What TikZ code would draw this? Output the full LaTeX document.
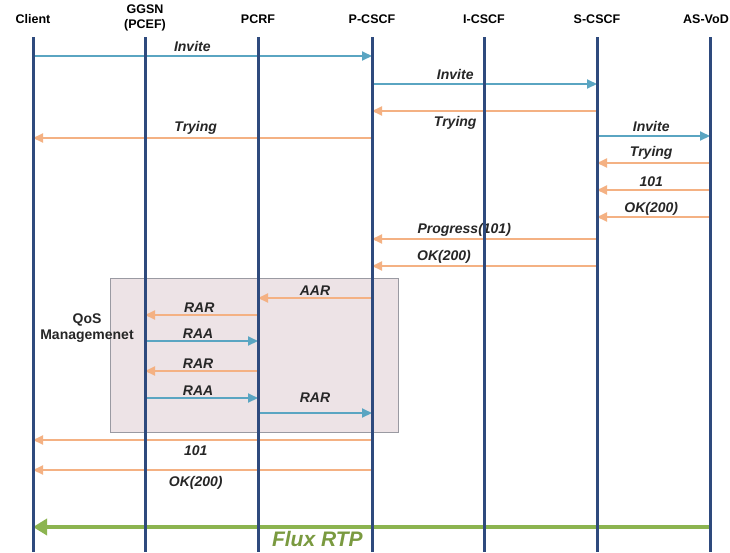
\documentclass[tikz,border=0pt]{standalone}
\usepackage{fontspec}
\setmainfont{Liberation Sans}
\usetikzlibrary{arrows.meta,positioning}

\definecolor{lifeblue}{HTML}{2E4A7D}
\definecolor{reqblue}{HTML}{5AA5C2}
\definecolor{resporange}{HTML}{F4B183}
\definecolor{rtpgreen}{HTML}{8CB450}
\definecolor{rtptext}{HTML}{7A9A40}
\definecolor{qosfill}{HTML}{EDE3E6}
\definecolor{qosline}{HTML}{9A9AA2}

\begin{document}
\begin{tikzpicture}[x=1pt,y=-1pt,
    head/.style={font=\fontsize{12.5}{15}\selectfont\bfseries,align=center,inner sep=0pt},
    life/.style={lifeblue,line width=3pt},
    req/.style={reqblue,line width=2pt,-{Triangle[length=10pt,width=9pt]}},
    resp/.style={resporange,line width=2pt,-{Triangle[length=10pt,width=9pt]}},
    rtp/.style={rtpgreen,line width=4pt,-{Triangle[length=14pt,width=16pt]}},
    lbl/.style={text=black!85,font=\fontsize{14}{15}\selectfont\bfseries\itshape,inner sep=1pt},
    qosbox/.style={fill=qosfill,draw=qosline,line width=1pt}]
    \clip (0,0) rectangle (730,552);
    \fill[white] (0,0) rectangle (730,552);

    % lifelines and headers
    \foreach \n/\x in {cl/33,gg/145,pc/258,pp/372,ic/484,sc/597,as/710}{
        \coordinate (\n-top) at (\x,37);
        \coordinate (\n-bot) at (\x,552);
    }
    \node[head] (cl) at (33,19) {Client};
    \node[head] (gg) at (145,18) {GGSN\\(PCEF)};
    \node[head] (pc) at (258,19) {PCRF};
    \node[head] (pp) at (372,19) {P-CSCF};
    \node[head] (ic) at (484,19) {I-CSCF};
    \node[head] (sc) at (597,19) {S-CSCF};
    \node[head,anchor=east] (as) at (729,19) {AS-VoD};

    % QoS zone
    \draw[qosbox] (110,278) rectangle (398,432);
    \node[head,font=\fontsize{14}{16}\selectfont\bfseries,text=black!85] (qos) at (87,328) {QoS\\Managemenet};

    % SIP session setup
    \draw[req] (cl-top |- 0,56) -- (pp-top |- 0,56) node[lbl,above=2pt,pos=.47] (m1) {Invite};
    \draw[req] (pp-top |- 0,84) -- (sc-top |- 0,84) node[lbl,above=2pt,pos=.37] (m2) {Invite};
    \draw[resp] (sc-top |- 0,111) -- (pp-top |- 0,111) node[lbl,below=3pt,pos=.63] (m3) {Trying};
    \draw[resp] (pp-top |- 0,138) -- (cl-top |- 0,138) node[lbl,above=2pt,pos=.52] (m4) {Trying};
    \draw[req] (sc-top |- 0,136) -- (as-top |- 0,136) node[lbl,above=2pt,pos=.48] (m5) {Invite};
    \draw[resp] (as-top |- 0,163) -- (sc-top |- 0,163) node[lbl,above=2pt,pos=.52] (m6) {Trying};
    \draw[resp] (as-top |- 0,190) -- (sc-top |- 0,190) node[lbl,above=1pt,pos=.52] (m7) {101};
    \draw[resp] (as-top |- 0,217) -- (sc-top |- 0,217) node[lbl,above=0pt,pos=.52] (m8) {OK(200)};
    \draw[resp] (sc-top |- 0,239) -- (pp-top |- 0,239) node[lbl,above=1pt,pos=.59] (m9) {Progress(101)};
    \draw[resp] (sc-top |- 0,266) -- (pp-top |- 0,266) node[lbl,above=1pt,pos=.68] (m10) {OK(200)};

    % QoS exchange
    \draw[resp] (pp-top |- 0,298) -- (pc-top |- 0,298) node[lbl,above=1pt,pos=.5] (m11) {AAR};
    \draw[resp] (pc-top |- 0,315) -- (gg-top |- 0,315) node[lbl,above=1pt,pos=.52] (m12) {RAR};
    \draw[req] (gg-top |- 0,341) -- (pc-top |- 0,341) node[lbl,above=1pt,pos=.47] (m13) {RAA};
    \draw[resp] (pc-top |- 0,371) -- (gg-top |- 0,371) node[lbl,above=1pt,pos=.53] (m14) {RAR};
    \draw[req] (gg-top |- 0,398) -- (pc-top |- 0,398) node[lbl,above=1pt,pos=.47] (m15) {RAA};
    \draw[req] (pc-top |- 0,413) -- (pp-top |- 0,413) node[lbl,above=9pt,pos=.5] (m16) {RAR};

    % answers to client
    \draw[resp] (pp-top |- 0,440) -- (cl-top |- 0,440) node[lbl,below=4pt,pos=.52] (m17) {101};
    \draw[resp] (pp-top |- 0,470) -- (cl-top |- 0,470) node[lbl,below=4pt,pos=.52] (m18) {OK(200)};

    % media stream
    \draw[rtp] (as-top |- 0,527) -- (cl-top |- 0,527) node[lbl,below=1pt,pos=.58,text=rtptext,font=\fontsize{21}{22}\selectfont\bfseries\itshape] (m19) {Flux RTP};

    \foreach \n in {cl,gg,pc,pp,ic,sc,as}
        \draw[life] (\n-top) -- (\n-bot);
\end{tikzpicture}
\end{document}
